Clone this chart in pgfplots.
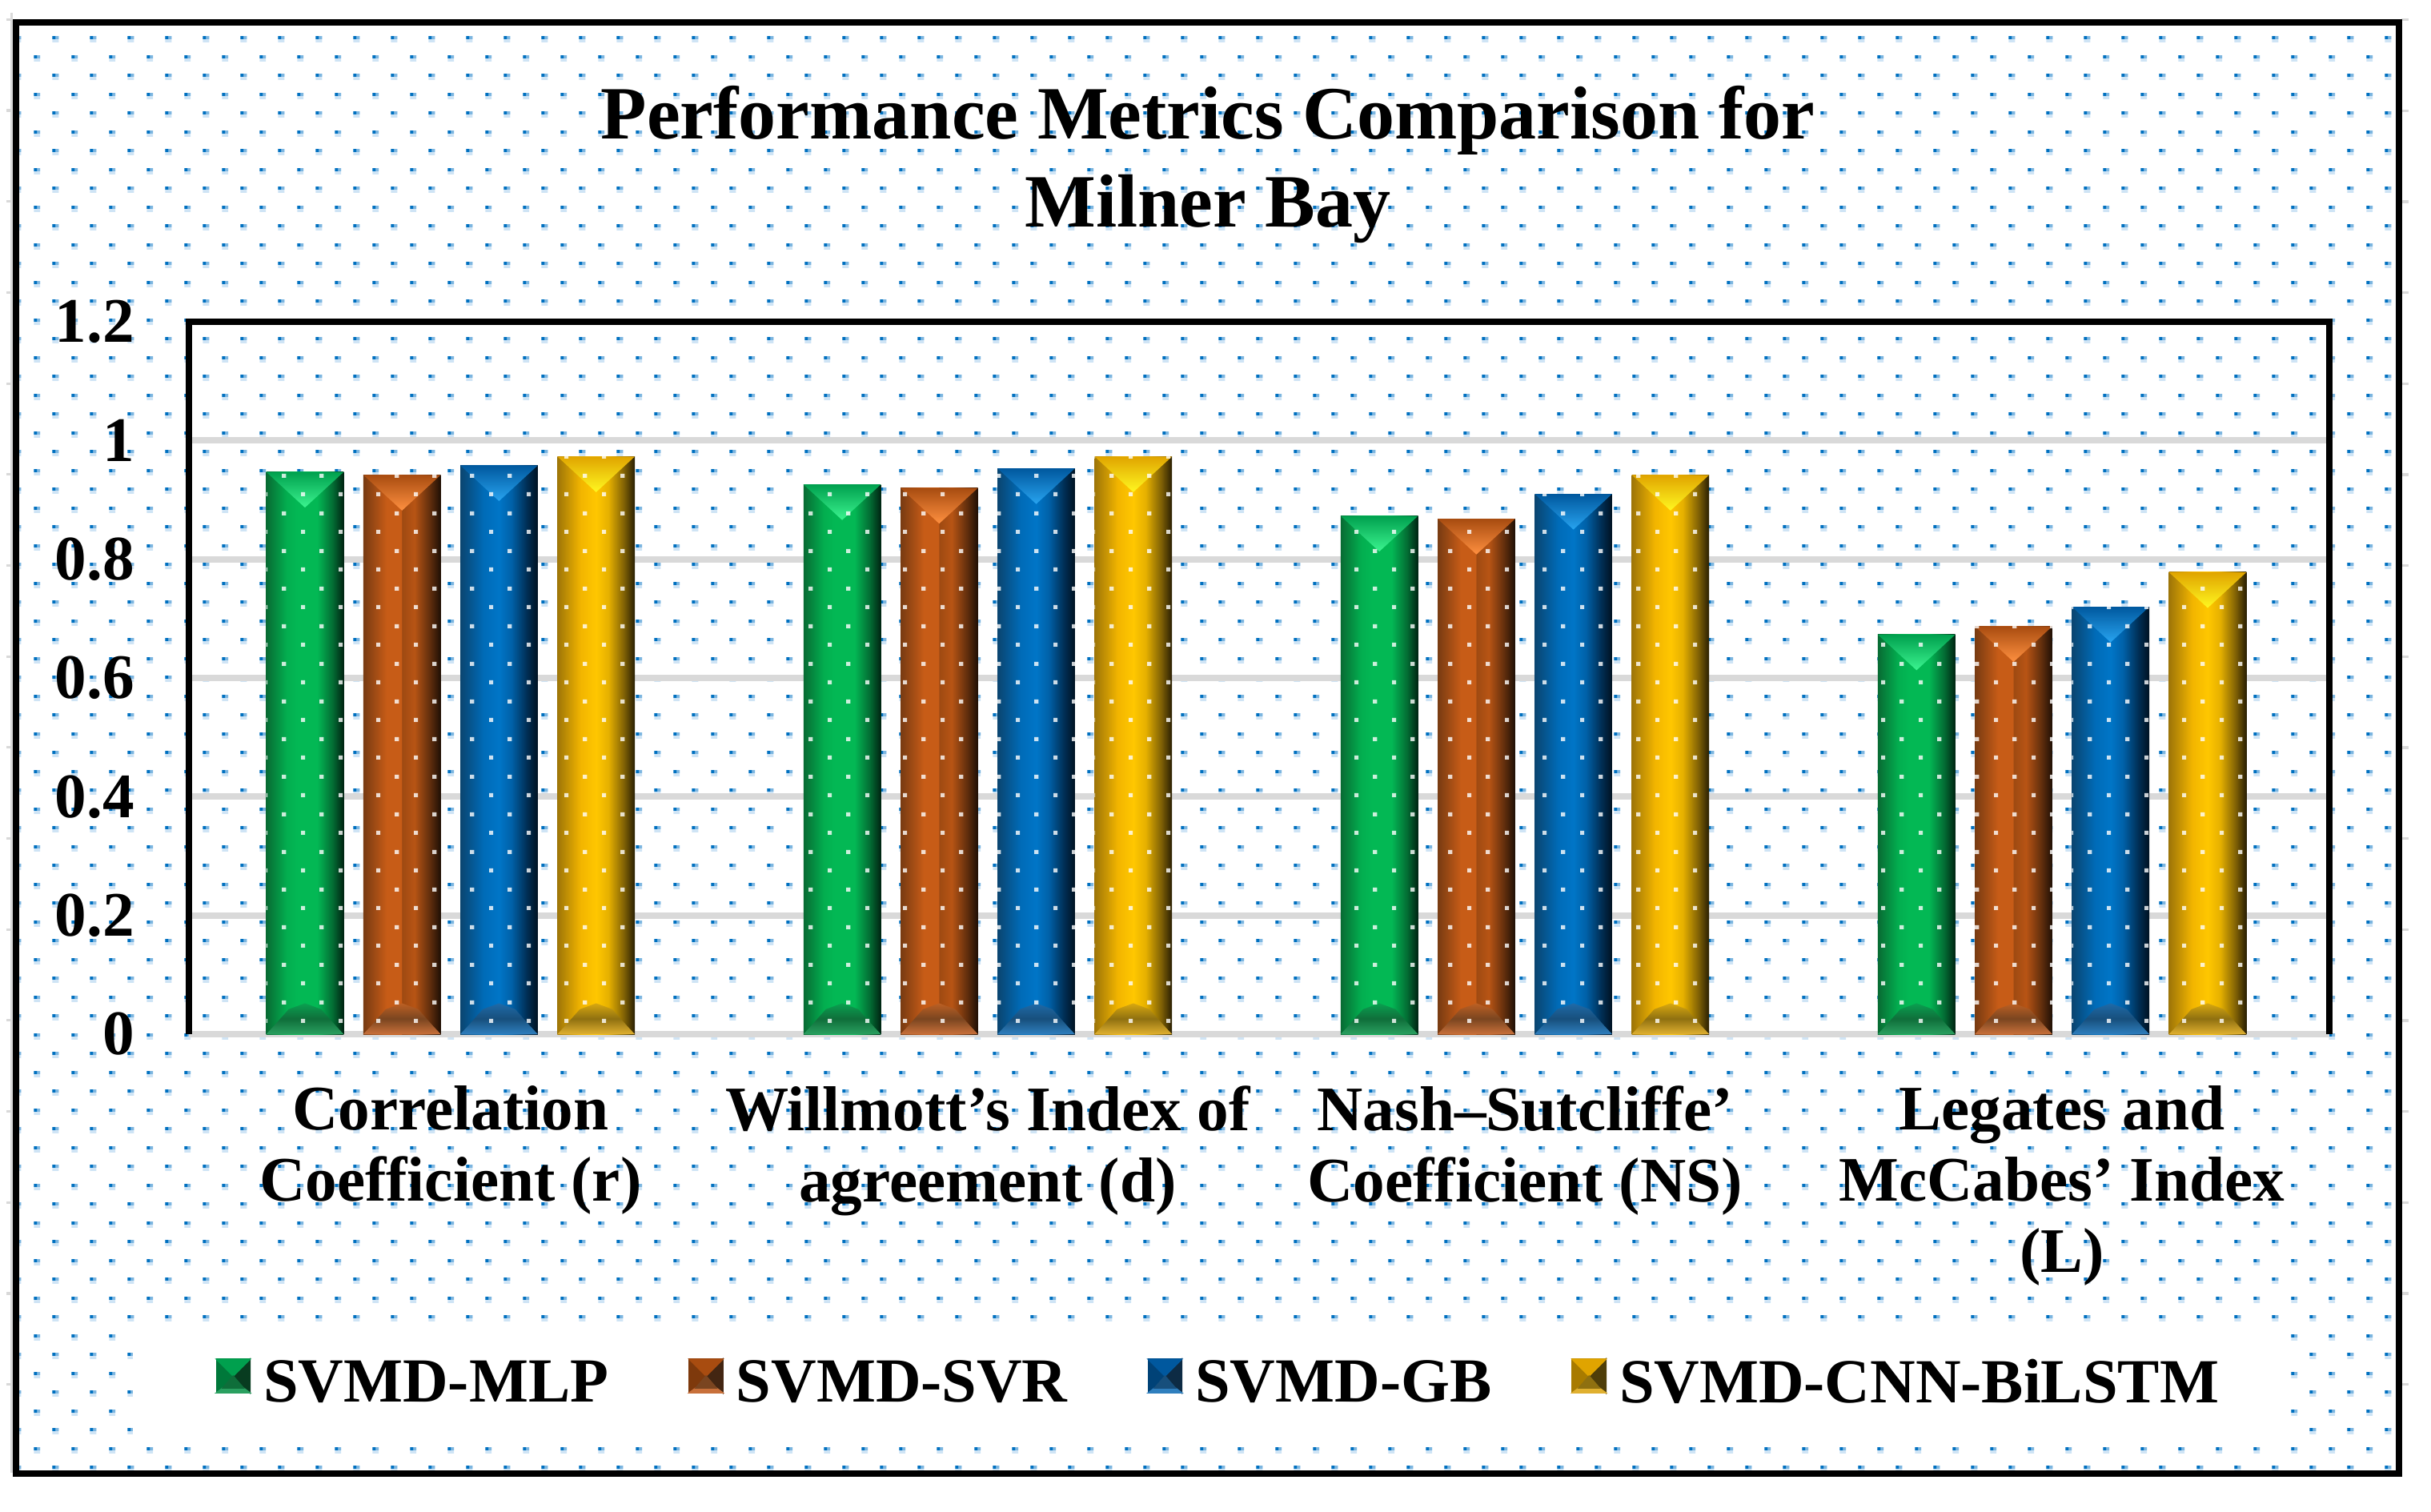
\documentclass[border=0pt]{standalone}
\usepackage{pgfplots}
\pgfplotsset{compat=1.18}
\usepackage{fontspec}
\setmainfont{Liberation Serif}
\usetikzlibrary{patterns}

% 1 px of the reference = 0.25pt
\definecolor{gridgrey}{HTML}{D9D9D9}
\definecolor{dotdark}{HTML}{0070C0}
\definecolor{dotmid}{HTML}{7DB6E0}
\definecolor{dotlight}{HTML}{CFE4F5}

\definecolor{gTop}{HTML}{00A04E}
\definecolor{gTip}{HTML}{3CF590}
\definecolor{gFootT}{HTML}{0AA050}
\definecolor{gFootA}{HTML}{0F6E3A}
\definecolor{gFootB}{HTML}{2AA060}
\definecolor{oTop}{HTML}{A84C10}
\definecolor{oTip}{HTML}{FF9040}
\definecolor{oFootT}{HTML}{BC6024}
\definecolor{oFootA}{HTML}{7A4520}
\definecolor{oFootB}{HTML}{C8703A}
\definecolor{bTop}{HTML}{00589E}
\definecolor{bTip}{HTML}{28A4F0}
\definecolor{bFootT}{HTML}{1F6AA8}
\definecolor{bFootA}{HTML}{174F7C}
\definecolor{bFootB}{HTML}{2F7FBE}
\definecolor{yTop}{HTML}{E0A400}
\definecolor{yTip}{HTML}{FFF820}
\definecolor{yFootT}{HTML}{D8A810}
\definecolor{yFootA}{HTML}{8F7010}
\definecolor{yFootB}{HTML}{E0B030}

% staggered background dots, one in each half of the tile
\pgfdeclarepatterninherentlycolored{bgdots}{\pgfpoint{-2pt}{-2pt}}{\pgfpoint{9.75pt}{9.75pt}}{\pgfpoint{11.75pt}{11.75pt}}{
  \pgfsetfillcolor{dotlight}
  \pgfpathrectangle{\pgfpoint{5pt}{0.83pt}}{\pgfpoint{2pt}{2pt}}\pgfusepath{fill}
  \pgfpathrectangle{\pgfpoint{-0.875pt}{6.7pt}}{\pgfpoint{2pt}{2pt}}\pgfusepath{fill}
  \pgfsetfillcolor{dotmid}
  \pgfpathrectangle{\pgfpoint{6pt}{1.83pt}}{\pgfpoint{1pt}{1pt}}\pgfusepath{fill}
  \pgfpathrectangle{\pgfpoint{0.125pt}{7.7pt}}{\pgfpoint{1pt}{1pt}}\pgfusepath{fill}
  \pgfsetfillcolor{dotdark}
  \pgfpathrectangle{\pgfpoint{5pt}{1.83pt}}{\pgfpoint{1pt}{1pt}}\pgfusepath{fill}
  \pgfpathrectangle{\pgfpoint{-0.875pt}{7.7pt}}{\pgfpoint{1pt}{1pt}}\pgfusepath{fill}
}
% same dots for the bars, white
\pgfdeclarepatternformonly{bardots}{\pgfpointorigin}{\pgfpoint{11.75pt}{11.75pt}}{\pgfpoint{11.75pt}{11.75pt}}{
  \pgfpathrectangle{\pgfpoint{0pt}{0pt}}{\pgfpoint{1.3pt}{1.3pt}}\pgfusepath{fill}
  \pgfpathrectangle{\pgfpoint{5.875pt}{5.875pt}}{\pgfpoint{1.3pt}{1.3pt}}\pgfusepath{fill}
}

\pgfdeclarehorizontalshading{greenbar}{100bp}{rgb(0bp)=(0.03,0.42,0.20); rgb(25bp)=(0.03,0.42,0.20); rgb(38bp)=(0.01,0.68,0.31); rgb(45bp)=(0.01,0.72,0.33); rgb(58bp)=(0.01,0.72,0.33); rgb(68bp)=(0.01,0.42,0.20); rgb(75bp)=(0.0,0.14,0.07); rgb(100bp)=(0.0,0.14,0.07)}
\pgfdeclarehorizontalshading{orangebar}{100bp}{rgb(0bp)=(0.47,0.23,0.07); rgb(25bp)=(0.47,0.23,0.07); rgb(40bp)=(0.78,0.36,0.09); rgb(49.5bp)=(0.78,0.36,0.09); rgb(50bp)=(0.62,0.29,0.07); rgb(58bp)=(0.72,0.33,0.08); rgb(68bp)=(0.38,0.18,0.05); rgb(75bp)=(0.12,0.06,0.02); rgb(100bp)=(0.12,0.06,0.02)}
\pgfdeclarehorizontalshading{bluebar}{100bp}{rgb(0bp)=(0.04,0.27,0.44); rgb(25bp)=(0.04,0.27,0.44); rgb(40bp)=(0.0,0.42,0.72); rgb(50bp)=(0.0,0.46,0.78); rgb(58bp)=(0.0,0.38,0.66); rgb(68bp)=(0.0,0.18,0.33); rgb(75bp)=(0.0,0.07,0.13); rgb(100bp)=(0.0,0.07,0.13)}
\pgfdeclarehorizontalshading{yellowbar}{100bp}{rgb(0bp)=(0.62,0.46,0.03); rgb(25bp)=(0.62,0.46,0.03); rgb(40bp)=(0.95,0.71,0.0); rgb(50bp)=(1.0,0.78,0.0); rgb(58bp)=(0.90,0.69,0.0); rgb(68bp)=(0.50,0.38,0.02); rgb(75bp)=(0.16,0.12,0.01); rgb(100bp)=(0.16,0.12,0.01)}

\newcommand{\barw}{0.072}
% one bar: group, shift, value, shading, colour prefix
\newcommand{\onebar}[5]{%
  \pgfmathsetmacro\xc{#1+#2}
  \pgfmathsetmacro\xl{\xc-\barw}
  \pgfmathsetmacro\xr{\xc+\barw}
  \pgfmathsetmacro\xi{\xc-0.8*\barw}
  \pgfmathsetmacro\xj{\xc+0.8*\barw}
  \pgfmathsetmacro\xm{\xc-0.42*\barw}
  \pgfmathsetmacro\xn{\xc+0.42*\barw}
  \pgfmathsetmacro\yb{#3-0.06}
  \addplot[ybar,bar width=0.144,bar shift=#2,draw=none,forget plot,shading=#4] coordinates {(#1,#3)};
  \addplot[sharp plot,no marks,draw=none,forget plot,top color=#5FootT,bottom color=#5FootB,middle color=#5FootA]
    coordinates {(\xl,0) (\xr,0) (\xj,0.014) (\xn,0.042) (\xc,0.052) (\xm,0.042) (\xi,0.014)} -- cycle;
  \addplot[sharp plot,no marks,draw=none,forget plot,top color=#5Top,bottom color=#5Tip]
    coordinates {(\xl,#3) (\xr,#3) (\xc,\yb)} -- cycle;
  \addplot[ybar,bar width=0.144,bar shift=#2,draw=none,forget plot,pattern=bardots,pattern color=white,fill opacity=0.8] coordinates {(#1,#3)};
}
% one model over the four metrics
\newcommand{\model}[7]{%
  \onebar{0}{#3}{#4}{#1}{#2}
  \onebar{1}{#3}{#5}{#1}{#2}
  \onebar{2}{#3}{#6}{#1}{#2}
  \onebar{3}{#3}{#7}{#1}{#2}
}
\newcommand{\swatch}[1]{%
  \fill[#1Top!75!black] (0pt,-3pt) rectangle (10.5pt,7.5pt);
  \fill[#1FootA!55!black] (5.25pt,2.25pt) -- (10.5pt,7.5pt) -- (10.5pt,-3pt) -- cycle;
  \fill[#1Top] (0pt,7.5pt) -- (10.5pt,7.5pt) -- (5.25pt,2.25pt) -- cycle;
  \fill[#1FootB] (0pt,-3pt) -- (10.5pt,-3pt) -- (8.5pt,-1.5pt) -- (2pt,-1.5pt) -- cycle;
  \fill[#1FootA] (2pt,-1.5pt) -- (8.5pt,-1.5pt) -- (5.25pt,2.25pt) -- cycle;
  \path (12.5pt,0pt);
}

\begin{document}
\begin{tikzpicture}
\path[use as bounding box] (0pt,0pt) rectangle (759.25pt,472pt);
\path[pattern=bgdots] (5pt,11.75pt) rectangle (749.25pt,465pt);
% white band behind the legend
\fill[white] (41.5pt,21pt) rectangle (712.75pt,57.75pt);
% faint ruler marks outside the frame
\fill[gridgrey] (3.25pt,12pt) rectangle (4pt,468pt);
\foreach \k in {0,...,15} {
  \fill[gridgrey] (2pt,{465.5pt-\k*28.42pt}) rectangle (4pt,{466.3pt-\k*28.42pt});
  \fill[gridgrey] (750pt,{380.2pt-\k*28.42pt+28.42pt*3}) rectangle (752.3pt,{381pt-\k*28.42pt+28.42pt*3});
}
\begin{axis}[
  at={(59pt,149pt)}, anchor=south west,
  scale only axis,
  width=668.5pt, height=222.5pt,
  xmin=-0.487, xmax=3.4975,
  ymin=0, ymax=1.2,
  ytick={0,0.2,0.4,0.6,0.8,1,1.2},
  yticklabels={0,0.2,0.4,0.6,0.8,1,1.2},
  xtick={0,1,2,3},
  xticklabels={Correlation\\Coefficient (r),Willmott’s Index of\\agreement (d),Nash–Sutcliffe’\\Coefficient (NS),Legates and\\McCabes’ Index\\(L)},
  major tick length=0pt,
  axis line style={line width=2pt,black},
  axis x line*=bottom,
  separate axis lines,
  x axis line style={gridgrey},
  ymajorgrids,
  grid style={gridgrey,line width=2pt},
  tick label style={font=\bfseries\fontsize{19.8}{22.3}\selectfont},
  xticklabel style={align=center,yshift=-12.6pt},
  yticklabel style={xshift=-13.5pt},
  /pgf/number format/assume math mode=true,
  title={Performance Metrics Comparison for\\Milner Bay},
  title style={font=\bfseries\fontsize{23.5}{27.5}\selectfont,align=center,at={(0.476,1)},yshift=15pt},
  clip=false,
  legend columns=4,
  legend style={at={(0.482,-0.49)},anchor=center,draw=none,fill=none,
    font=\bfseries\fontsize{19.6}{22}\selectfont,
    /tikz/every even column/.append style={column sep=23pt}},
]
\model{greenbar}{g}{-0.271}{0.947}{0.926}{0.873}{0.673}
\model{orangebar}{o}{-0.0903}{0.942}{0.920}{0.868}{0.687}
\model{bluebar}{b}{0.0903}{0.958}{0.953}{0.910}{0.720}
\model{yellowbar}{y}{0.271}{0.973}{0.973}{0.942}{0.778}
\addlegendimage{legend image code/.code={\swatch{g}}}
\addlegendentry{SVMD-MLP}
\addlegendimage{legend image code/.code={\swatch{o}}}
\addlegendentry{SVMD-SVR}
\addlegendimage{legend image code/.code={\swatch{b}}}
\addlegendentry{SVMD-GB}
\addlegendimage{legend image code/.code={\swatch{y}}}
\addlegendentry{SVMD-CNN-BiLSTM}
\draw[line width=2pt,line cap=rect] (rel axis cs:0,1) -- (rel axis cs:1,1);
\end{axis}
\draw[line width=2pt,line join=miter] (5pt,11.75pt) rectangle (749.25pt,465pt);
\end{tikzpicture}
\end{document}
